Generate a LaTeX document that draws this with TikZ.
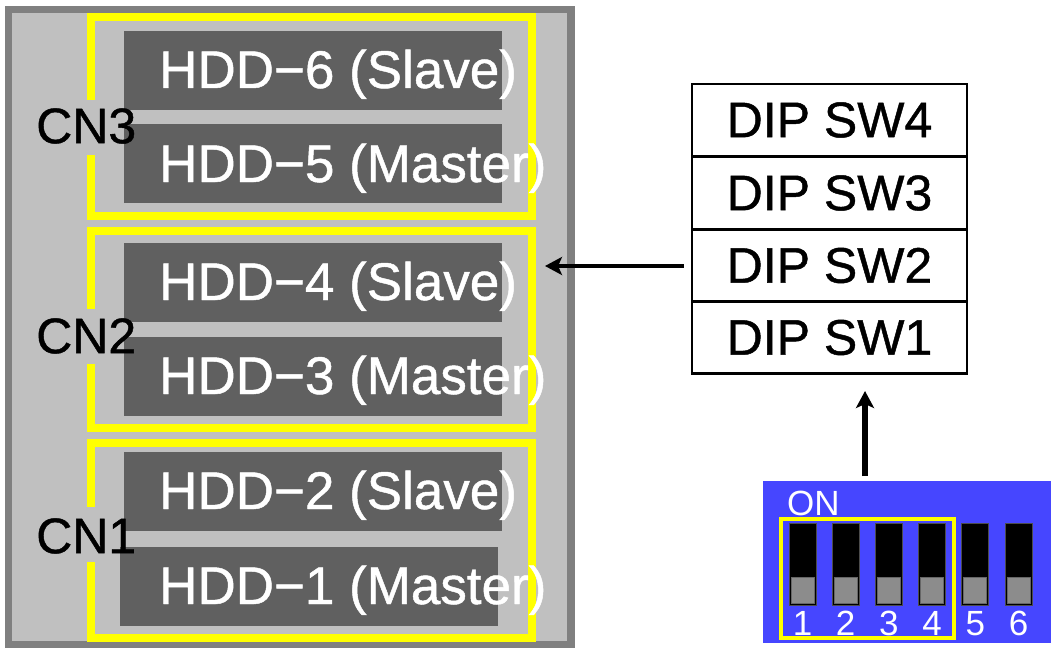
\documentclass[tikz,border=0pt]{standalone}
\usepackage{fontspec}
\setmainfont{Liberation Sans}
\newfontfamily\heavyfont[FakeBold=0.9]{Liberation Sans}
\usetikzlibrary{arrows.meta}
\definecolor{framegray}{HTML}{808080}
\definecolor{panelgray}{HTML}{C0C0C0}
\definecolor{hddgray}{HTML}{606060}
\definecolor{cnyellow}{HTML}{FFFF00}
\definecolor{dipblue}{HTML}{4646FF}
\definecolor{swgray}{HTML}{8C8C8C}
\tikzset{
  hddbox/.style={fill=hddgray, draw=none, inner sep=0pt, minimum width=378pt, minimum height=79pt},
  hddtext/.style={text=white, inner sep=0pt, anchor=base west, font=\heavyfont\fontsize{53}{60}\selectfont},
  cnlabel/.style={text=black, inner sep=0pt, anchor=west, font=\heavyfont\fontsize{50}{56}\selectfont},
  cnframe/.style={draw=cnyellow, line width=8pt},
  diprow/.style={draw=black, line width=2.5pt, fill=white, minimum width=275pt, minimum height=72pt, inner sep=0pt, font=\heavyfont\fontsize{50}{56}\selectfont},
  arrowline/.style={draw=black, line width=4pt, -{Stealth[length=17pt,width=18pt,inset=4pt]}},
  swbody/.style={fill=black, draw=black!70, line width=1pt, minimum width=27pt, minimum height=82pt, inner sep=0pt},
  swknob/.style={fill=swgray, draw=black!60, line width=0.8pt, minimum width=23pt, minimum height=26pt, inner sep=0pt},
  swnum/.style={text=white, inner sep=0pt, anchor=base, font=\fontsize{35}{40}\selectfont}
}
\begin{document}
\begin{tikzpicture}[x=1pt,y=-1pt]
\useasboundingbox (0,0) rectangle (1056,650);
% panel
\fill[framegray] (5,6) rectangle (575,648);
\fill[panelgray] (12,13) rectangle (567,641);
% hdd boxes
\node[hddbox] (hdd6) at (313,70.5) {};
\node[hddbox] (hdd5) at (313,163.5) {};
\node[hddbox] (hdd4) at (313,282.5) {};
\node[hddbox] (hdd3) at (313,376) {};
\node[hddbox] (hdd2) at (313,491.5) {};
\node[hddbox] (hdd1) at (309,586) {};
% yellow frames with gap for label
\draw[cnframe] (90.5,100) -- (90.5,17) -- (531.5,17) -- (531.5,216) -- (90.5,216) -- (90.5,155);
\draw[cnframe] (90.5,309) -- (90.5,231) -- (531.5,231) -- (531.5,428) -- (90.5,428) -- (90.5,364);
\draw[cnframe] (90.5,507) -- (90.5,443) -- (531.5,443) -- (531.5,638) -- (90.5,638) -- (90.5,562);
% hdd texts
\node[hddtext] (t6) at (159,88) {HDD−6 (Slave)};
\node[hddtext] (t5) at (159,182) {HDD−5 (Master)};
\node[hddtext] (t4) at (159,300) {HDD−4 (Slave)};
\node[hddtext] (t3) at (159,394) {HDD−3 (Master)};
\node[hddtext] (t2) at (159,509) {HDD−2 (Slave)};
\node[hddtext] (t1) at (159,604) {HDD−1 (Master)};
% CN labels
\node[cnlabel] (cn3) at (36,126) {CN3};
\node[cnlabel] (cn2) at (36,336) {CN2};
\node[cnlabel] (cn1) at (36,536) {CN1};
% DIP SW table
\node[diprow] (sw4) at (829.5,120) {DIP SW4};
\node[diprow] (sw3) at (829.5,193) {DIP SW3};
\node[diprow] (sw2) at (829.5,265.5) {DIP SW2};
\node[diprow] (sw1) at (829.5,337.5) {DIP SW1};
% arrow to panel
\coordinate (panelin) at (545,266);
\draw[arrowline] (sw2.west |- panelin) ++(-7,0) -- (panelin);
% DIP switch block
\node[fill=dipblue, draw=none, inner sep=0pt, minimum width=288pt, minimum height=162pt] (dip) at (907,562) {};
\node[text=white, inner sep=0pt, anchor=base west, font=\fontsize{35}{40}\selectfont] (on) at (787,515) {ON};
\foreach \i in {1,...,6}{
  \pgfmathsetmacro{\cx}{802.5+43.2*(\i-1)}
  \node[swbody] (sb\i) at (\cx,564) {};
  \node[swknob] (sk\i) at (\cx,590) {};
  \node[swnum] (sn\i) at (\cx,635) {\i};
}
\node[draw=cnyellow, line width=4pt, inner sep=0pt, minimum width=173pt, minimum height=119pt] (sel) at (867.5,578.5) {};
% arrow up
\coordinate (upstart) at (865,476);
\coordinate (upend) at (865,391);
\draw[arrowline, line width=6pt] (upstart) -- (upend);
\end{tikzpicture}
\end{document}
